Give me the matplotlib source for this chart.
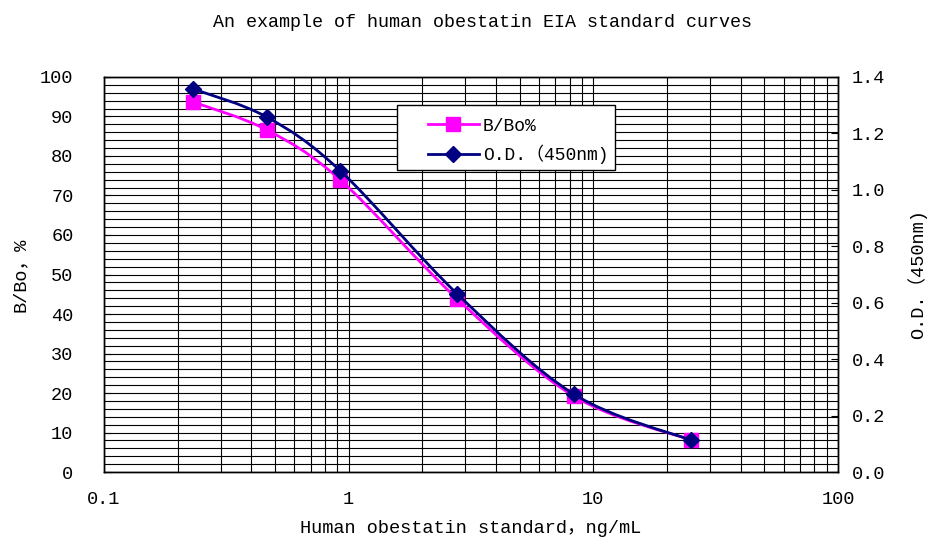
import numpy as np
import matplotlib
matplotlib.use('Agg')
import matplotlib.pyplot as plt
from matplotlib.path import Path
from matplotlib.patches import PathPatch, Rectangle
from matplotlib.lines import Line2D
from matplotlib.ticker import FixedLocator, FuncFormatter, LogLocator, NullFormatter

plt.rcParams['font.family'] = ['Liberation Mono', 'Noto Sans CJK SC']

# standard concentrations, ng/mL
conc = [0.231, 0.463, 0.926, 2.78, 8.33, 25.0]
# B/Bo %
b_bo = [93.7, 86.6, 73.9, 43.8, 19.2, 8.1]
# O.D. at 450nm
od = [1.358, 1.258, 1.067, 0.631, 0.276, 0.113]

x_ticks = [0.1, 1, 10, 100]
left_ticks = list(range(0, 101, 10))
right_ticks = [0.0, 0.2, 0.4, 0.6, 0.8, 1.0, 1.2, 1.4]

PINK = '#FF00FF'
NAVY = '#000080'


def smooth_path(xs, ys):
    """Excel-like smoothed line as cubic bezier, built in log-x space."""
    lx = np.log10(xs)
    ys = np.asarray(ys, dtype=float)
    n = len(lx)
    verts = [(lx[0], ys[0])]
    codes = [Path.MOVETO]
    for i in range(n - 1):
        p0 = (lx[max(i - 1, 0)], ys[max(i - 1, 0)])
        p1 = (lx[i], ys[i])
        p2 = (lx[i + 1], ys[i + 1])
        p3 = (lx[min(i + 2, n - 1)], ys[min(i + 2, n - 1)])
        c1 = (p1[0] + (p2[0] - p0[0]) / 6, p1[1] + (p2[1] - p0[1]) / 6)
        c2 = (p2[0] - (p3[0] - p1[0]) / 6, p2[1] - (p3[1] - p1[1]) / 6)
        verts += [c1, c2, p2]
        codes += [Path.CURVE4] * 3
    verts = [(10 ** vx, vy) for vx, vy in verts]
    return Path(verts, codes)


fig = plt.figure(figsize=(9.28, 5.46), dpi=100)
ax = fig.add_axes([0.112, 0.1355, 0.791, 0.7235])
ax2 = ax.twinx()

ax.set_xscale('log')
ax.set_xlim(0.1, 100)
ax.set_ylim(0, 100)
ax2.set_ylim(0, 1.4)

# grid
ax.xaxis.set_major_locator(FixedLocator(x_ticks))
ax.xaxis.set_minor_locator(LogLocator(base=10, subs=np.arange(2, 10)))
ax.xaxis.set_minor_formatter(NullFormatter())
ax.xaxis.set_major_formatter(FuncFormatter(lambda v, p: f'{v:g}'))
ax.yaxis.set_major_locator(FixedLocator(left_ticks))
ax.yaxis.set_minor_locator(FixedLocator(range(0, 101, 2)))
ax.grid(True, which='both', axis='both', color='black', linewidth=0.8)
ax.set_axisbelow(True)

ax.tick_params(axis='x', which='both', length=0, labelsize=13.4, pad=14)
ax.tick_params(axis='y', which='major', direction='in', length=5, labelsize=13.4, pad=22)
ax.tick_params(axis='y', which='minor', length=0)
ax2.yaxis.set_major_locator(FixedLocator(right_ticks))
ax2.yaxis.set_major_formatter(FuncFormatter(lambda v, p: f'{v:.1f}'))
ax2.tick_params(axis='y', direction='in', length=5, labelsize=13.4, pad=10)

for a in (ax, ax2):
    for s in a.spines.values():
        s.set_color('black')
        s.set_linewidth(1.0)

# smoothed lines
ax.add_patch(PathPatch(smooth_path(conc, b_bo), facecolor='none',
                       edgecolor=PINK, linewidth=2.0, zorder=3))
ax.plot(conc, b_bo, linestyle='none', marker='s', markersize=9.5,
        color=PINK, zorder=4)
ax2.add_patch(PathPatch(smooth_path(conc, od), facecolor='none',
                        edgecolor=NAVY, linewidth=2.0, zorder=3))
ax2.plot(conc, od, linestyle='none', marker='D', markersize=7.8,
         color=NAVY, zorder=4)

# legend box
ax2.add_patch(Rectangle((0.399, 0.765), 0.297, 0.164, transform=ax2.transAxes,
                        facecolor='white', edgecolor='black', linewidth=1.0,
                        zorder=6))
handles = [
    Line2D([], [], color=PINK, marker='s', markersize=9.5, linewidth=2.0),
    Line2D([], [], color=NAVY, marker='D', markersize=7.8, linewidth=2.0),
]
leg = ax2.legend(handles, ['B/Bo%', 'O.D.（450nm)'], loc='center left',
                 bbox_to_anchor=(0.441, 0.838), fontsize=13, frameon=False,
                 handlelength=2.85, borderpad=0, labelspacing=0.55,
                 handletextpad=0.2, borderaxespad=0)
leg.set_zorder(7)

ax.set_xlabel('Human obestatin standard，ng/mL', fontsize=13.4, labelpad=8)
ax.set_ylabel('B/Bo，%', fontsize=13.4, labelpad=8)
ax2.set_ylabel('O.D.（450nm)', fontsize=13.4, labelpad=16)
fig.suptitle('An example of human obestatin EIA standard curves',
             fontsize=13.2, x=0.52, y=0.975)

fig.savefig('out.png', dpi=100)
